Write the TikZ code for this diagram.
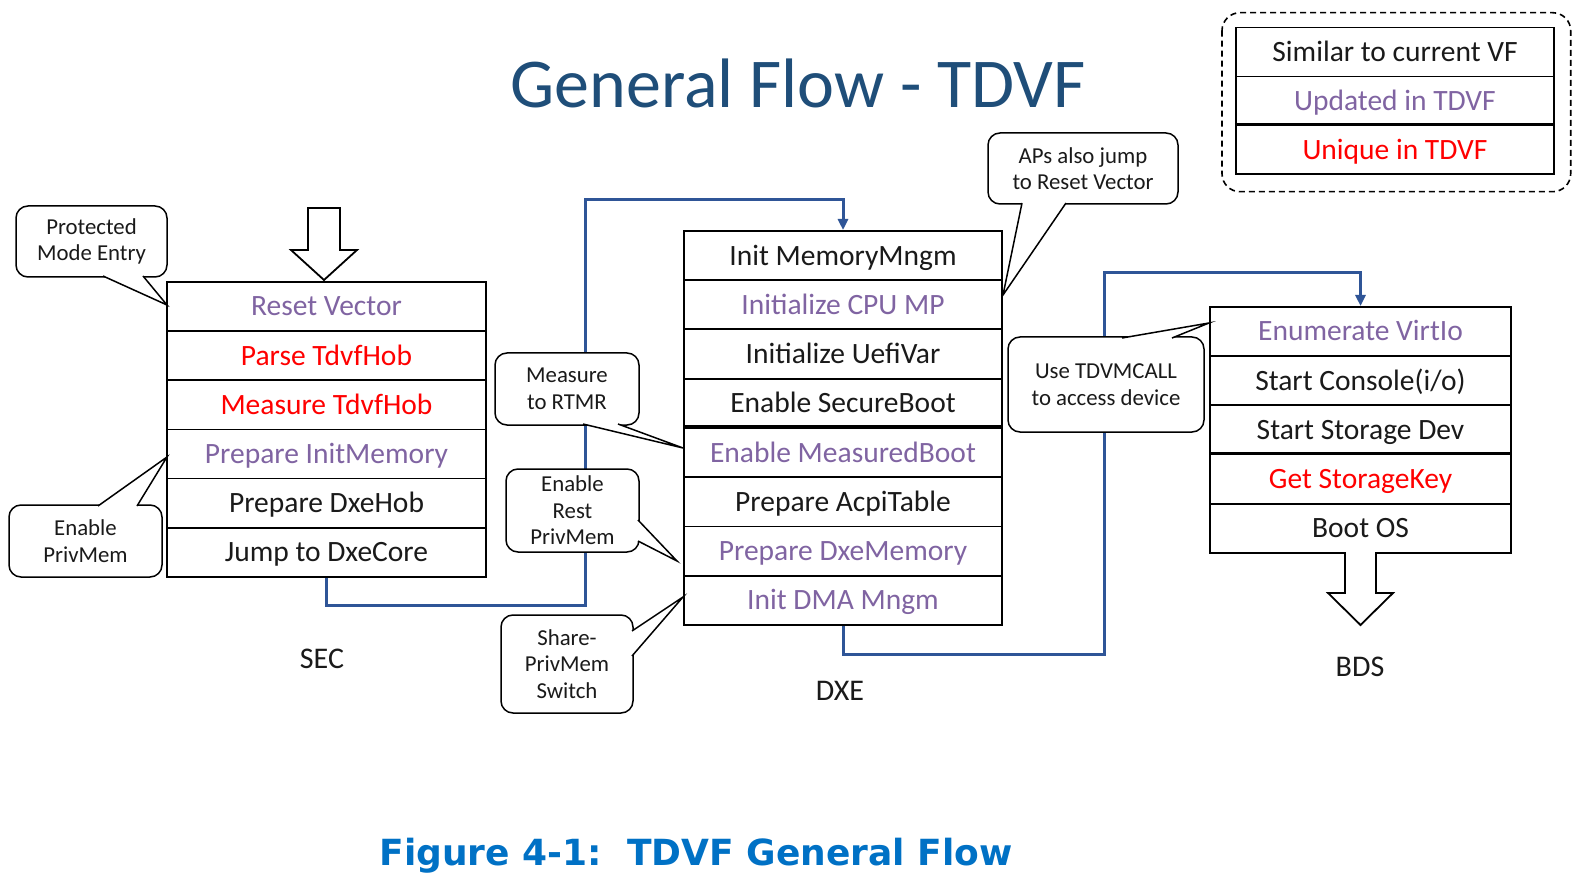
\documentclass[tikz,border=0pt]{standalone}
\usepackage{fontspec}
\setmainfont{Carlito}
\newfontfamily\capfont{DejaVu Sans}
\usetikzlibrary{arrows.meta}
\definecolor{titleblue}{HTML}{1F4E79}
\definecolor{flowblue}{HTML}{2F5597}
\definecolor{capblue}{HTML}{0071C5}
\definecolor{updc}{HTML}{8064A2}
\definecolor{uniqc}{HTML}{FF0000}
\definecolor{txtc}{HTML}{1A1A1A}
\begin{document}
\begin{tikzpicture}[x=1pt,y=-1pt,
  row/.style={draw=black, line width=1.8pt, fill=white, anchor=north, inner sep=0pt,
    text height=19pt, text depth=0pt, font=\fontsize{29.5}{35}\selectfont, text=txtc},
  secrow/.style={row, minimum width=319pt, minimum height=49.17pt},
  dxerow/.style={row, minimum width=318pt, minimum height=49.25pt},
  bdsrow/.style={row, minimum width=301pt, minimum height=49.2pt},
  legrow/.style={row, minimum width=318.6pt, minimum height=48.9pt},
  updt/.style={text=updc},
  uniqt/.style={text=uniqc},
  thickdiv/.style={line width=3.6pt, draw=black},
  callout/.style={draw=black, line width=1.5pt, fill=white, rounded corners=12pt,
    align=center, inner sep=0pt, font=\fontsize{22.8}{26.5}\selectfont, text=txtc},
  ptr/.style={draw=black, line width=1.5pt, fill=white, line join=miter},
  flow/.style={draw=flowblue, line width=3pt, -{Triangle[length=11pt,width=10pt]}},
  blockarrow/.style={draw=black, line width=1.8pt, fill=white, line join=miter},
  stage/.style={anchor=base, font=\fontsize{30}{34}\selectfont, text=txtc},
]
\fill[white] (0,0) rectangle (1582,874);
\useasboundingbox (0,0) rectangle (1582,874);

% title and caption
\node[anchor=base, font=\fontsize{70}{80}\selectfont, text=titleblue] (title) at (798,108) {General Flow - TDVF};
\node[anchor=base, font=\capfont\bfseries\fontsize{36}{42}\selectfont, text=capblue] (caption) at (696,865) {Figure 4-1:\ \ TDVF General Flow};

% legend
\draw[line width=1.6pt, dash pattern=on 6pt off 4pt, rounded corners=18pt] (1222,12.7) rectangle (1570.7,191.7);
\node[legrow] (l1) at (1395,26.7) {Similar to current VF};
\node[legrow, updt] (l2) at (1395,75.6) {Updated in TDVF};
\node[legrow, uniqt] (l3) at (1395,124.5) {Unique in TDVF};
\draw[thickdiv] (l3.north west) -- (l3.north east);

% SEC stack
\node[secrow, updt] (s1) at (326.5,281) {Reset Vector};
\node[secrow, uniqt] (s2) at (326.5,330.17) {Parse TdvfHob};
\node[secrow, uniqt] (s3) at (326.5,379.33) {Measure TdvfHob};
\node[secrow, updt] (s4) at (326.5,428.5) {Prepare InitMemory};
\node[secrow] (s5) at (326.5,477.67) {Prepare DxeHob};
\node[secrow] (s6) at (326.5,526.83) {Jump to DxeCore};

% DXE stack
\node[dxerow] (d1) at (843,230) {Init MemoryMngm};
\node[dxerow, updt] (d2) at (843,279.25) {Initialize CPU MP};
\node[dxerow] (d3) at (843,328.5) {Initialize UefiVar};
\node[dxerow] (d4) at (843,377.75) {Enable SecureBoot};
\node[dxerow, updt] (d5) at (843,427) {Enable MeasuredBoot};
\node[dxerow] (d6) at (843,476.25) {Prepare AcpiTable};
\node[dxerow, updt] (d7) at (843,525.5) {Prepare DxeMemory};
\node[dxerow, updt] (d8) at (843,574.75) {Init DMA Mngm};
\draw[thickdiv] (d5.north west) -- (d5.north east);

% BDS stack
\node[bdsrow, updt] (b1) at (1360.5,306) {Enumerate VirtIo};
\node[bdsrow] (b2) at (1360.5,355.2) {Start Console(i/o)};
\node[bdsrow] (b3) at (1360.5,404.4) {Start Storage Dev};
\node[bdsrow, uniqt] (b4) at (1360.5,453.6) {Get StorageKey};
\node[bdsrow] (b5) at (1360.5,502.8) {Boot OS};
\draw[thickdiv] (b4.north west) -- (b4.north east);

% flow connectors
\draw[flow] (s6.south) -- ++(0,28) -| (585,200) -| (d1.north);
\draw[flow] (d8.south) -- ++(0,29) -| (1104,273) -| (b1.north);

% block arrows
\path[blockarrow] (308,208) -- (340,208) -- (340,250) -- (357,250) -- (324,280) -- (291,250) -- (308,250) -- cycle;
\path[blockarrow] (1345,552) -- (1345,593) -- (1328,593) -- (1360.5,625) -- (1393,593) -- (1376,593) -- (1376,552);

% stage labels
\node[stage] (secl) at (322,668) {SEC};
\node[stage] (dxel) at (840,700) {DXE};
\node[stage] (bdsl) at (1360,676) {BDS};

% callouts
\node[callout, minimum width=151pt, minimum height=71pt] (c1) at (91.5,241.5) {Protected\\Mode Entry};
\path[ptr] (103,276) -- (167,305) -- (143,276);

\node[callout, minimum width=153pt, minimum height=72pt] (c2) at (85.5,541) {Enable\\PrivMem};
\path[ptr] (98,506) -- (167,457) -- (137,506);

\node[callout, minimum width=144pt, minimum height=72pt] (c3) at (567,389) {Measure\\to RTMR};
\path[ptr] (583,424) -- (683,448) -- (618,424);

\node[callout, minimum width=133pt, minimum height=83pt] (c4) at (572.5,510.5) {Enable\\Rest\\PrivMem};
\path[ptr] (638,520) -- (677,561) -- (638,541);

\node[callout, minimum width=132pt, minimum height=98pt] (c5) at (567,664) {Share-\\PrivMem\\Switch};
\path[ptr] (632,631) -- (683,597) -- (632,656);

\node[callout, minimum width=190pt, minimum height=71pt] (c6) at (1083,168.5) {APs also jump\\to Reset Vector};
\path[ptr] (1022,203) -- (1003,295) -- (1066,203);

\node[callout, minimum width=196pt, minimum height=95pt] (c7) at (1106,384.5) {Use TDVMCALL\\to access device};
\path[ptr] (1122,338) -- (1209,323) -- (1172,338);
\end{tikzpicture}
\end{document}
